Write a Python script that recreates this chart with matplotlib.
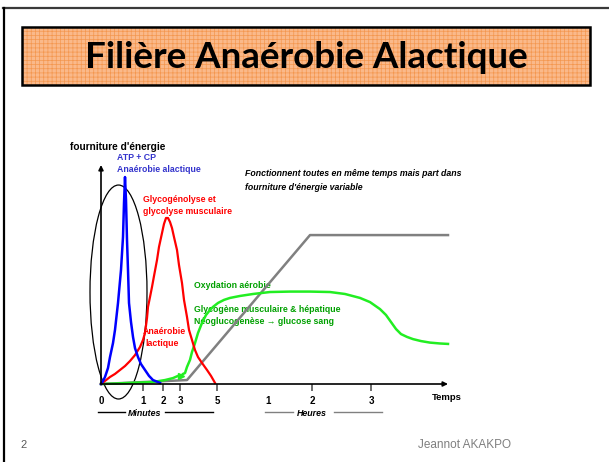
import matplotlib
matplotlib.use('Agg')
import matplotlib.pyplot as plt
from matplotlib import font_manager as fm
from matplotlib.patches import Rectangle, Ellipse

# police étroite si disponible (proche d'Arial Narrow)
names = {f.name for f in fm.fontManager.ttflist}
narrow = 'Liberation Sans Narrow' if 'Liberation Sans Narrow' in names else 'Liberation Sans'
plt.rcParams['font.family'] = [narrow, 'DejaVu Sans']
plt.rcParams['hatch.linewidth'] = 0.5

# axe du temps : position sur l'axe (0 = origine), énergie en % de la hauteur
tick_pos = [0, 42, 62, 79, 116, 167, 211, 270]
tick_labels = ['0', '1', '2', '3', '5', '1', '2', '3']

# ATP + CP (anaérobie alactique)
atp_x = [0, 2, 4, 7, 9, 12, 14, 17, 20, 22, 23, 24, 25, 26, 27, 28, 30, 32, 34, 37, 40, 44, 48, 52, 59]
atp_y = [0, 1.4, 3.2, 7.3, 12.3, 18.7, 24.7, 37.0, 52.1, 67.1, 82.6, 94.5, 84.0, 65.8, 52.1, 37.0,
         28.3, 21.5, 16.4, 12.3, 9.1, 6.4, 3.7, 1.8, 0.5]

# glycogénolyse / glycolyse (anaérobie lactique)
lac_x = [0, 4, 9, 14, 19, 24, 29, 34, 39, 42, 44, 46, 47, 49, 51, 53, 56, 58, 61, 63, 65, 67, 69,
         71, 73, 76, 78, 81, 83, 86, 88, 91, 94, 97, 101, 106, 110, 114]
lac_y = [0, 1.4, 3.2, 4.6, 6.4, 8.2, 10.5, 13.2, 16.9, 20.1, 23.3, 30.1, 35.2, 39.7, 44.3, 49.3,
         56.6, 62.6, 68.9, 73.1, 75.8, 75.8, 74.0, 71.2, 67.1, 61.2, 54.3, 46.1, 38.4, 30.6, 24.7,
         20.1, 15.5, 12.3, 9.6, 6.4, 3.7, 0.5]

# oxydation aérobie
oxy_x = [0, 14, 29, 52, 64, 72, 77, 80, 82, 84, 86, 89, 91, 94, 97, 101, 105, 109, 112, 117, 123,
         129, 139, 152, 169, 189, 209, 229, 244, 259, 269, 279, 285, 290, 295, 300, 306, 312, 320,
         329, 339, 347]
oxy_y = [0, 0.2, 0.5, 0.9, 1.8, 2.7, 3.7, 3.7, 4.6, 5.0, 7.8, 11.0, 14.6, 18.7, 23.3, 27.9, 31.5,
         33.8, 35.2, 37.0, 38.4, 39.3, 40.2, 41.1, 42.0, 42.2, 42.2, 42.0, 41.1, 39.3, 37.4, 34.2,
         31.5, 28.3, 25.1, 22.8, 21.5, 20.5, 19.6, 18.9, 18.5, 18.3]

# glycogène musculaire & hépatique / néoglucogenèse
glu_x = [0, 86, 209, 347]
glu_y = [0, 1.8, 68.0, 68.0]

fig = plt.figure(figsize=(6.09, 4.62), dpi=100)
fig.patch.set_facecolor('white')

# --- diapositive (coordonnées en pixels) ---
slide = fig.add_axes([0, 0, 1, 1])
slide.set_xlim(0, 609)
slide.set_ylim(462, 0)
slide.axis('off')
slide.plot([3, 609], [8, 8], color='#3a3a3a', lw=1.6)
slide.plot([4, 4], [8, 462], color='black', lw=1.6)

slide.add_patch(Rectangle((22, 27), 568, 58, facecolor='#FAB98A', edgecolor='#F4974F',
                          hatch='++++', lw=0))
slide.add_patch(Rectangle((22, 27), 568, 58, fill=False, edgecolor='black', lw=1.8))
slide.text(306, 57, 'Filière Anaérobie Alactique', ha='center', va='center',
           fontsize=26.5, fontweight='bold', family=['Lato', 'DejaVu Sans'])

slide.text(20, 445, '2', ha='left', va='center', fontsize=8, color='#595959',
           family=['Liberation Sans'])
slide.text(464, 445, 'Jeannot AKAKPO', ha='center', va='center', fontsize=8.5,
           color='#7F7F7F', family=['Liberation Sans'])

# --- graphique ---
ax = fig.add_axes([101 / 609, (462 - 384) / 462, 347 / 609, 219 / 462])
ax.set_xlim(0, 347)
ax.set_ylim(0, 100)
for s in ax.spines.values():
    s.set_visible(False)
ax.patch.set_alpha(0)

ax.plot(glu_x, glu_y, color='#808080', lw=1.8, clip_on=False)
ax.plot(oxy_x, oxy_y, color='#22EE22', lw=1.8, clip_on=False)
ax.plot(oxy_x[7], oxy_y[7], marker='>', ms=4, color='#22EE22', clip_on=False)
ax.plot(lac_x, lac_y, color='#FF0000', lw=1.6, clip_on=False)
ax.plot(atp_x, atp_y, color='#0000FF', lw=1.8, clip_on=False)
ax.add_patch(Ellipse((17.5, 42), 57, 97.7, fill=False, edgecolor='black', lw=0.9, clip_on=False))

# axes avec flèches
ax.annotate('', xy=(0, 100), xytext=(0, 0),
            arrowprops=dict(arrowstyle='-|>', color='black', lw=1.2, mutation_scale=7,
                            shrinkA=0, shrinkB=0), annotation_clip=False)
ax.annotate('', xy=(347, 0), xytext=(0, 0),
            arrowprops=dict(arrowstyle='-|>', color='black', lw=1.2, mutation_scale=7,
                            shrinkA=0, shrinkB=0), annotation_clip=False)

ax.set_yticks([])
ax.set_xticks(tick_pos, tick_labels)
ax.tick_params(axis='x', length=5, width=1.2, color='#555555', pad=3.5, labelsize=7)
for lab in ax.get_xticklabels():
    lab.set_fontweight('bold')
for i in (0, 5):
    ax.xaxis.get_major_ticks()[i].tick1line.set_visible(False)

# textes du graphique
kw = dict(fontsize=6.3, fontweight='bold', va='center', ha='left')
slide.text(70, 147, "fourniture d'énergie", color='black', fontsize=7.3, fontweight='bold',
           va='center', ha='left')
slide.text(117, 157, 'ATP + CP', color='#3333CC', **kw)
slide.text(117, 169, 'Anaérobie alactique', color='#3333CC', **kw)
slide.text(143, 200, 'Glycogénolyse et', color='#FF0000', **kw)
slide.text(143, 212, 'glycolyse musculaire', color='#FF0000', **kw)
slide.text(143, 331, 'Anaérobie', color='#FF0000', **kw)
slide.text(145, 343, 'lactique', color='#FF0000', **kw)
slide.text(194, 285, 'Oxydation aérobie', color='#00A000', **kw)
slide.text(194, 309, 'Glycogène musculaire & hépatique', color='#00A000', **kw)
slide.text(194, 322, 'Néoglucogenèse → glucose sang', color='#00A000', **kw)
slide.text(245, 174, 'Fonctionnent toutes en même temps mais part dans', color='black',
           style='italic', **kw)
slide.text(245, 187, "fourniture d'énergie variable", color='black', style='italic', **kw)
slide.text(432, 398, 'Temps', color='black', fontsize=6.8, fontweight='bold', va='center',
           ha='left')

slide.plot([98, 125], [412, 412], color='black', lw=1)
slide.plot([165, 213], [412, 412], color='black', lw=1)
slide.text(145, 413, 'Minutes', color='black', style='italic', fontsize=6.4,
           fontweight='bold', ha='center', va='center')
slide.plot([265, 293], [412, 412], color='#808080', lw=1)
slide.plot([334, 382], [412, 412], color='#808080', lw=1)
slide.text(312, 413, 'Heures', color='black', style='italic', fontsize=6.4,
           fontweight='bold', ha='center', va='center')

fig.savefig('out.png', dpi=100)
